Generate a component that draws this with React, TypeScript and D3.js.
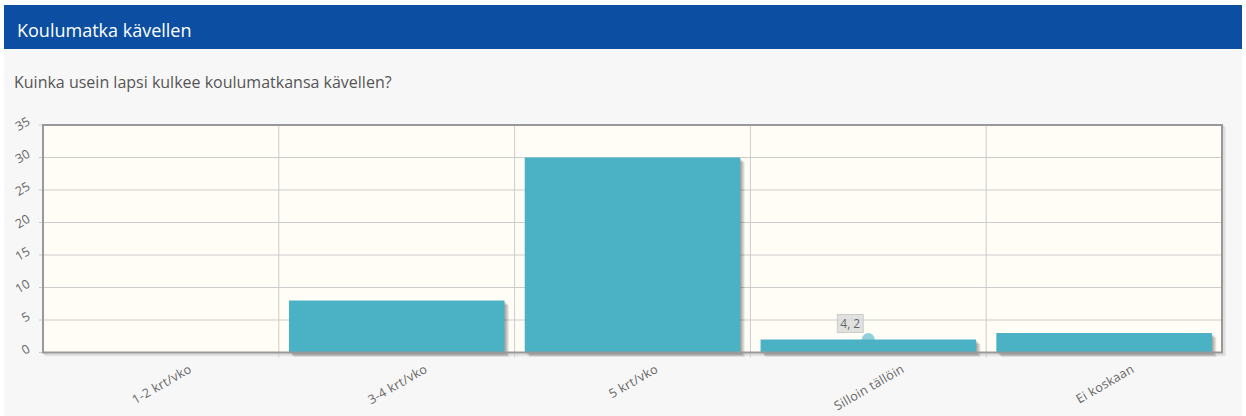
import React from "react";
import * as d3 from "d3";

const title = "Koulumatka kävellen";
const question = "Kuinka usein lapsi kulkee koulumatkansa kävellen?";
const categories = ["1-2 krt/vko", "3-4 krt/vko", "5 krt/vko", "Silloin tällöin", "Ei koskaan"];
const values = [0, 8, 30, 2, 3];
const yTicks = [0, 5, 10, 15, 20, 25, 30, 35];
const highlightIndex = 3;

const W = 1246;
const H = 416;
const M = { left: 43, right: 1222, top: 125, bottom: 352.5 };
const FONT = "'Open Sans', sans-serif";
const LABEL_SIZE = 12.5;
const LABEL_SPACING = 0.3;

function measure(text: string, font: string, spacing = 0): number {
  const c = document.createElement("canvas");
  const ctx = c.getContext("2d");
  if (!ctx) return text.length * 6.5;
  ctx.font = font;
  return ctx.measureText(text).width + spacing * text.length;
}

export default function App() {
  const x = d3.scaleBand<string>().domain(categories).range([M.left, M.right]).padding(0);
  const y = d3.scaleLinear().domain([0, 35]).range([M.bottom, M.top]);
  const bw = x.bandwidth();
  const barPad = bw * 0.043;
  const barW = bw - 2 * barPad;
  const ang = -30;
  const rad = (Math.abs(ang) * Math.PI) / 180;

  const hlCat = categories[highlightIndex];
  const hx = (x(hlCat) as number) + bw / 2;
  const hy = y(values[highlightIndex]);
  const tipText = `${highlightIndex + 1}, ${values[highlightIndex]}`;
  const tipW = measure(tipText, `12px ${FONT}`) + 6;

  return (
    <svg
      width={W}
      height={H}
      style={{ position: "absolute", left: 0, top: 0, display: "block" }}
      fontFamily={FONT}
    >
      <rect x={0} y={0} width={W} height={H} fill="#ffffff" />
      <rect x={4} y={5} width={1238} height={H - 5} fill="#f7f7f7" />
      <rect x={4} y={5} width={1238} height={44} fill="#0c4ea1" />
      <text x={17} y={37} fill="#ffffff" fontSize={18}>{title}</text>
      <text x={14} y={88} fill="#555555" fontSize={16}>{question}</text>

      {/* plot area shadow */}
      {[1, 2, 3].map((i) => (
        <rect
          key={"ps" + i}
          x={M.left + i}
          y={M.top + i}
          width={M.right - M.left}
          height={M.bottom - M.top}
          fill="none"
          stroke="#000"
          strokeOpacity={0.07}
          strokeWidth={1.5}
        />
      ))}
      <rect x={M.left} y={M.top} width={M.right - M.left} height={M.bottom - M.top} fill="#fffdf6" />

      {/* horizontal grid */}
      {yTicks.map((t) => (
        <line key={"gy" + t} x1={M.left} x2={M.right} y1={y(t)} y2={y(t)} stroke="#cccccc" strokeWidth={1} />
      ))}
      {/* vertical grid */}
      {categories.slice(1).map((c) => (
        <line key={"gx" + c} x1={x(c) as number} x2={x(c) as number} y1={M.top} y2={M.bottom + 5} stroke="#cccccc" strokeWidth={1} />
      ))}
      {/* y tick marks */}
      {yTicks.map((t) => (
        <line key={"ty" + t} x1={M.left - 4} x2={M.left} y1={y(t)} y2={y(t)} stroke="#cccccc" strokeWidth={1} />
      ))}

      {/* highlight point (behind bars) */}
      <circle cx={hx} cy={hy} r={6.5} fill="#93d0dc" />

      {/* bar shadows */}
      {categories.map((c, i) =>
        values[i] > 0
          ? [1, 2, 3, 4, 5].map((k) => (
              <rect
                key={"bs" + i + "-" + k}
                x={(x(c) as number) + barPad + k * 0.9}
                y={y(values[i]) + k * 0.9}
                width={barW}
                height={M.bottom - y(values[i])}
                fill="#000"
                fillOpacity={0.08}
              />
            ))
          : null
      )}
      {/* bars */}
      {categories.map((c, i) =>
        values[i] > 0 ? (
          <rect
            key={"b" + i}
            x={(x(c) as number) + barPad}
            y={y(values[i])}
            width={barW}
            height={M.bottom - y(values[i])}
            fill="#4bb2c5"
          />
        ) : null
      )}

      {/* border */}
      <rect
        x={M.left}
        y={M.top}
        width={M.right - M.left}
        height={M.bottom - M.top}
        fill="none"
        stroke="#999999"
        strokeWidth={2}
      />

      {/* y labels */}
      {yTicks.map((t) => (
        <text
          key={"ly" + t}
          x={0}
          y={0}
          transform={`translate(${M.left - 12},${y(t) - 1}) rotate(${ang})`}
          textAnchor="end"
          fontSize={12.5}
          fill="#666666"
        >
          {t}
        </text>
      ))}

      {/* x labels */}
      {categories.map((c) => {
        const w = measure(c, `${LABEL_SIZE}px ${FONT}`, LABEL_SPACING);
        const cx = (x(c) as number) + bw / 2 + 3;
        const ex = cx + (w * Math.cos(rad)) / 2;
        const ey = M.bottom + 19;
        return (
          <text
            key={"lx" + c}
            x={0}
            y={0}
            transform={`translate(${ex},${ey}) rotate(${ang})`}
            textAnchor="end"
            fontSize={LABEL_SIZE}
            letterSpacing={LABEL_SPACING}
            fill="#666666"
          >
            {c}
          </text>
        );
      })}

      {/* tooltip */}
      <rect
        x={hx - 31}
        y={hy - 25}
        width={tipW}
        height={18}
        fill="#dcdcdc"
        fillOpacity={0.85}
        stroke="#cccccc"
        strokeWidth={1}
      />
      <text x={hx - 31 + tipW / 2} y={hy - 11.5} textAnchor="middle" fontSize={12} fill="#666666">
        {tipText}
      </text>
    </svg>
  );
}
